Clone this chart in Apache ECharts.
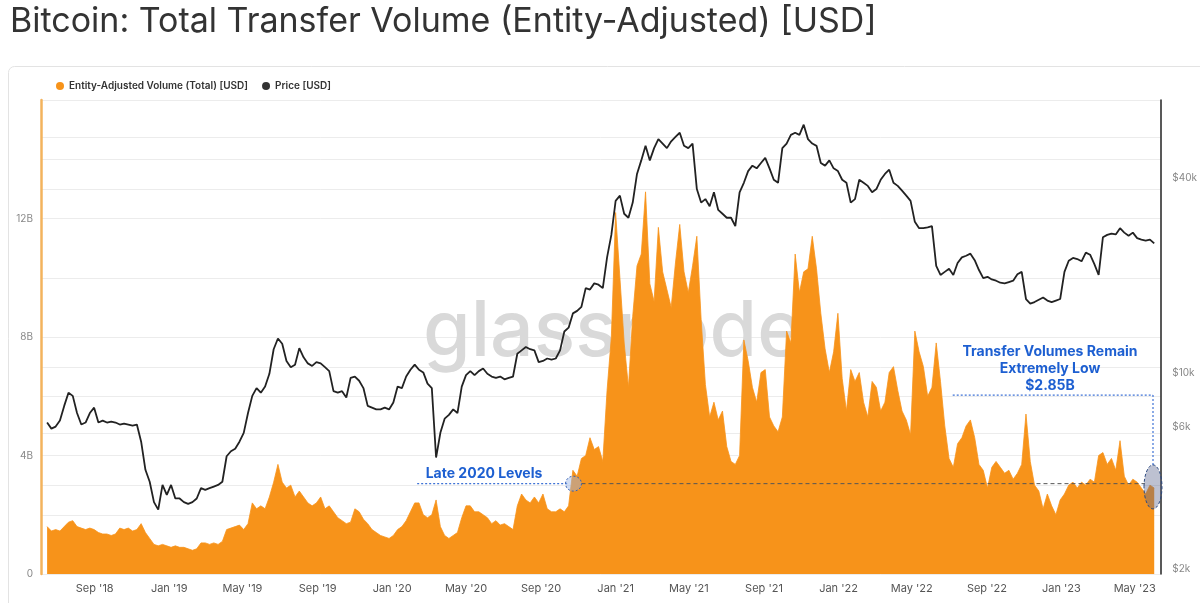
<!DOCTYPE html>
<html>
<head>
<meta charset="utf-8">
<script src="https://cdn.jsdelivr.net/npm/echarts@6/dist/echarts.min.js"></script>
<style>
  html, body { margin: 0; padding: 0; background: #fff; }
  #chart { width: 1200px; height: 603px; }
</style>
</head>
<body>
<div id="chart"></div>
<script>
// weekly samples, first one on 2018-06-15
const startDate = [2018, 5, 15];

// Entity-adjusted transfer volume, billions USD
const volumeB = [
  1.6, 1.45, 1.5, 1.45, 1.6, 1.75, 1.8, 1.6, 1.55, 1.5,
  1.55, 1.5, 1.4, 1.35, 1.35, 1.3, 1.35, 1.55, 1.5, 1.55,
  1.45, 1.5, 1.7, 1.4, 1.2, 1.0, 0.95, 1.0, 0.95, 0.9,
  0.95, 0.9, 0.9, 0.85, 0.8, 0.85, 1.05, 1.05, 1.0, 1.05,
  1.0, 1.1, 1.5, 1.55, 1.6, 1.65, 1.5, 1.7, 2.4, 2.2,
  2.3, 2.2,
  2.6, 3.1, 3.7, 3.1, 2.9, 3.0, 2.6, 2.8,
  2.6, 2.4, 2.3, 2.4, 2.6, 2.2, 2.3, 2.1, 1.9, 1.8,
  1.7, 1.75, 2.2, 2.1, 1.85, 1.7, 1.5, 1.4, 1.3, 1.25,
  1.2, 1.3, 1.5, 1.6, 1.8, 2.1, 2.4, 2.4, 2.0, 1.9,
  2.0, 2.5, 1.6, 1.3, 1.2, 1.3, 1.4, 1.9, 2.3, 2.3,
  2.1, 2.1, 2.0, 1.9,
  1.7, 1.8, 1.65, 1.7, 1.6, 1.5,
  2.3, 2.7, 2.5, 2.4, 2.6, 2.4, 2.7, 2.2, 2.1, 2.1,
  2.2, 2.1, 2.3, 3.5, 3.3, 3.9, 4.0, 4.6, 4.2, 4.3,
  3.8, 6.2, 8.0, 12.2, 10.0, 7.8, 6.3, 8.7, 10.4, 10.8,
  12.9, 9.8, 9.2, 11.7, 10.2, 9.6, 9.0, 10.5, 11.8, 10.2,
  9.5, 10.4, 11.4, 8.6, 6.4, 5.3,
  5.8, 5.2, 5.5, 4.3, 3.8, 3.7, 4.0, 7.9, 7.2, 6.3,
  5.8, 6.8, 6.9, 5.3, 5.0, 4.8, 5.3, 8.2, 7.8, 10.8,
  9.5, 10.2, 10.3, 11.4, 10.3, 8.8, 7.6, 6.8, 7.5, 8.8,
  6.6, 5.5, 6.9, 6.5, 6.8, 5.8, 5.3, 6.5, 6.3, 5.5,
  5.8, 6.8, 7.0, 6.2, 5.5, 5.2, 4.7, 8.2, 7.5, 7.0,
  6.0, 6.3,
  7.8, 6.5, 5.0, 3.9, 3.6, 4.4, 4.6, 5.0, 5.2, 4.6,
  3.7, 3.5, 2.9, 3.6, 3.8, 3.6, 3.4, 3.5, 3.2, 3.4,
  3.7, 5.4, 3.8, 3.0, 2.8, 2.2, 2.7, 2.3, 2.0, 2.5,
  2.7, 3.0, 3.1, 2.9, 3.1, 3.0, 3.2, 3.1, 4.0, 4.1,
  3.7, 3.9, 3.5, 4.5, 3.3, 3.0, 3.2, 3.1, 2.9, 2.7,
  3.0, 2.9
];

// BTC price, thousands USD
const priceK = [
  6.5, 6.2, 6.3, 6.6, 7.4, 8.2, 8.0, 7.0, 6.4, 6.5,
  7.0, 7.3, 6.5, 6.6, 6.5, 6.55, 6.5, 6.4, 6.45, 6.4,
  6.35, 6.4, 5.6, 4.5, 4.1, 3.5, 3.3, 4.0, 3.7, 4.0,
  3.6, 3.6, 3.5, 3.45, 3.5, 3.6, 3.9, 3.85, 3.9, 3.95,
  4.0, 4.1, 5.0, 5.2, 5.3, 5.6, 6.0, 7.0, 8.0, 8.5,
  8.2, 8.6,
  9.5, 11.5, 12.5, 12.0, 10.5, 10.0, 10.2, 11.6,
  10.8, 10.3, 10.1, 10.4, 10.3, 10.0, 9.7, 8.3, 8.2, 8.3,
  7.9, 9.2, 9.3, 9.0, 8.5, 7.4, 7.3, 7.2, 7.2, 7.3,
  7.2, 7.6, 8.6, 8.5, 9.3, 9.8, 10.2, 9.8, 9.6, 8.8,
  8.5, 4.95, 6.0, 6.7, 6.9, 7.2, 7.0, 8.6, 9.4, 9.7,
  9.4, 9.7, 9.9, 9.5,
  9.3, 9.2, 9.3, 9.1, 9.2, 9.3,
  11.1, 11.4, 11.7, 11.5, 11.4, 10.4, 10.5, 10.7, 10.6, 10.7,
  11.4, 13.2, 13.6, 15.2, 15.5, 16.0, 18.5, 18.3, 19.2, 19.0,
  18.5, 23.5, 28.0, 36.5, 38, 33, 32, 36, 45, 50,
  56, 50, 55, 59, 57, 55, 58, 60, 62, 56,
  55, 57, 40, 36, 37, 35,
  39, 34, 33, 32, 32, 30, 39, 42, 46, 48,
  47, 49, 51, 47, 43, 42, 55, 57, 61, 62,
  61, 66, 59, 57, 56, 49, 48, 50, 47, 46,
  43, 42, 36, 37, 43, 42, 41, 39, 40, 43,
  45, 46.5, 42, 41, 39.5, 38, 36.5, 31, 29.5, 29.5,
  29.7, 30,
  22, 20.5, 21, 21.5, 20.5, 22.5, 23.5, 23.8, 24.2, 23,
  21.3, 20, 20.2, 19.8, 19.6, 19.3, 19.2, 19.4, 19.6, 20.6,
  21, 17.0, 16.4, 16.6, 16.9, 17.2, 16.8, 16.6, 16.8, 17.0,
  21, 22.9, 23.4, 23.2, 22.8, 24.4, 24.0, 22.3, 20.5, 27.5,
  28.0, 28.3, 28.1, 29.5, 28.5, 27.8, 28.5, 27.3, 27.0, 26.8,
  27.0, 26.2
];

// x axis labels: first of Sep / Jan / May
const xTickDates = [
  [2018, 8], [2019, 0], [2019, 4], [2019, 8], [2020, 0], [2020, 4], [2020, 8],
  [2021, 0], [2021, 4], [2021, 8], [2022, 0], [2022, 4], [2022, 8], [2023, 0], [2023, 4]
];
const leftTickLabels = [0, 4, 8, 12];          // B
const rightTickLabels = [2000, 6000, 10000, 40000];
const rightGridValues = [4000, 6000, 10000, 20000, 40000, 60000];

const ORANGE = '#f7931a';
const BLUE = '#1d5fd1';
const DAY = 86400000;
const MONTHS = ['Jan','Feb','Mar','Apr','May','Jun','Jul','Aug','Sep','Oct','Nov','Dec'];

const t0 = Date.UTC(startDate[0], startDate[1], startDate[2]);
const volData = volumeB.map((v, i) => [t0 + i * 7 * DAY, v * 1e9]);
const priceData = priceK.map((p, i) => [t0 + i * 7 * DAY, p * 1000]);
const xTicks = xTickDates.map(d => Date.UTC(d[0], d[1], 1));

const chart = echarts.init(document.getElementById('chart'));

const option = {
  animation: false,
  textStyle: { fontFamily: 'Inter, "Noto Sans", sans-serif' },
  title: {
    text: 'Bitcoin: Total Transfer Volume (Entity-Adjusted) [USD]',
    left: 5, top: 0,
    textStyle: { fontSize: 34, fontWeight: 'normal', color: '#333', fontFamily: 'Inter' }
  },
  legend: {
    left: 51, top: 76,
    icon: 'circle', itemWidth: 8, itemHeight: 8, itemGap: 14,
    textStyle: { fontSize: 10, fontWeight: 600, color: '#333' },
    data: ['Entity-Adjusted Volume (Total) [USD]', 'Price [USD]']
  },
  grid: { left: 41, right: 37, top: 100, bottom: 29 },
  xAxis: {
    // timestamps on a plain value axis so the Sep/Jan/May ticks can be set directly
    type: 'value',
    min: Date.UTC(2018, 5, 5),
    max: Date.UTC(2023, 5, 12),
    axisLine: { show: false },
    axisTick: { show: false },
    splitLine: { show: false },
    axisLabel: {
      customValues: xTicks,
      color: '#555', fontSize: 11, margin: 9,
      formatter: v => {
        const d = new Date(v);
        return MONTHS[d.getUTCMonth()] + " '" + String(d.getUTCFullYear()).slice(2);
      }
    }
  },
  yAxis: [
    {
      type: 'value', position: 'left',
      min: 0, max: 16e9, interval: 2e9,
      axisLine: { show: true, lineStyle: { color: '#f3b35d', width: 2.5 } },
      axisTick: { show: false },
      splitLine: { lineStyle: { color: '#ececec', width: 1 } },
      axisLabel: {
        color: '#888', fontSize: 10, margin: 8, padding: [0, 0, 10, 0],
        formatter: v => {
          const b = Math.round(v / 1e9);
          if (!leftTickLabels.includes(b)) return '';
          return b === 0 ? '0' : b + 'B';
        }
      }
    },
    {
      type: 'log', position: 'right', logBase: 10,
      min: 2000, max: 80000,
      axisLine: { show: true, onZero: false, lineStyle: { color: '#222', width: 1.5 } },
      axisTick: { show: false },
      splitLine: { show: false },
      axisLabel: {
        customValues: rightTickLabels,
        color: '#888', fontSize: 10, margin: 12,
        formatter: v => {
          const k = Math.round(v / 1000);
          // glassnode nudges some of its log labels off the tick
          const tag = k === 40 ? 'a' : k === 10 ? 'b' : 'c';
          return '{' + tag + '|$' + k + 'k}';
        },
        rich: {
          a: { color: '#888', fontSize: 10, padding: [0, 0, 22, 0] },
          b: { color: '#888', fontSize: 10, padding: [12, 0, 0, 0] },
          c: { color: '#888', fontSize: 10, padding: [0, 0, 11, 0] }
        }
      }
    }
  ],
  series: [
    {
      // extra grid lines that belong to the log axis, kept under the volume area
      type: 'line', yAxisIndex: 1, data: [], z: 0, silent: true,
      markLine: {
        silent: true, symbol: 'none', label: { show: false }, animation: false, z: 0,
        lineStyle: { color: '#ececec', width: 1, type: 'solid' },
        data: rightGridValues.map(v => ({ yAxis: v }))
      }
    },
    {
      name: 'Entity-Adjusted Volume (Total) [USD]',
      type: 'line', yAxisIndex: 0, data: volData,
      symbol: 'none', z: 2,
      itemStyle: { color: ORANGE },
      lineStyle: { color: ORANGE, width: 0.8 },
      areaStyle: { color: ORANGE, opacity: 1 }
    },
    {
      name: 'Price [USD]',
      type: 'line', yAxisIndex: 1, data: priceData,
      symbol: 'none', z: 3,
      itemStyle: { color: '#333' },
      lineStyle: { color: '#222', width: 1.8 }
    }
  ]
};
chart.setOption(option);

// annotations placed through the volume axis
const px = (y, m, d, v) => chart.convertToPixel({ xAxisIndex: 0, yAxisIndex: 0 }, [Date.UTC(y, m, d), v]);
const lvl = 3.05e9;
const a1 = px(2020, 1, 11, lvl), a2 = px(2020, 9, 14, lvl);
const e1 = px(2020, 9, 24, lvl);
const e2 = px(2023, 4, 31, 2.94e9);
const top1 = px(2022, 6, 7, 6.04e9), top2 = px(2023, 4, 31, 6.04e9);

chart.setOption({
  graphic: [
    {
      type: 'rect', z: -10, silent: true,
      shape: { x: 8.5, y: 66.5, width: 1250, height: 600, r: 6 },
      style: { fill: 'none', stroke: '#e3e3e3', lineWidth: 1 }
    },
    {
      type: 'text', z: 0, silent: true, x: 423, y: 333,
      style: { text: 'glassnode', font: '500 77px Inter', fill: '#d9d9d9', verticalAlign: 'middle' }
    },
    {
      type: 'line', z: 50, silent: true,
      shape: { x1: a1[0], y1: a1[1], x2: a2[0], y2: a2[1] },
      style: { stroke: '#3f73d6', lineWidth: 1.2, lineDash: [2, 2] }
    },
    {
      type: 'line', z: 50, silent: true,
      shape: { x1: e1[0] + 8, y1: e1[1], x2: e2[0] - 8, y2: e1[1] },
      style: { stroke: '#555', lineWidth: 1, lineDash: [4, 3] }
    },
    {
      type: 'ellipse', z: 51, silent: true,
      shape: { cx: e1[0], cy: e1[1], rx: 8, ry: 7.5 },
      style: { fill: 'rgba(150,180,230,0.45)', stroke: '#3a62b0', lineWidth: 1, lineDash: [2, 2] }
    },
    {
      type: 'line', z: 50, silent: true,
      shape: { x1: top1[0], y1: top1[1], x2: top2[0], y2: top2[1] },
      style: { stroke: '#3f73d6', lineWidth: 1.2, lineDash: [2, 2] }
    },
    {
      type: 'line', z: 50, silent: true,
      shape: { x1: top2[0], y1: top2[1], x2: top2[0], y2: e2[1] - 22 },
      style: { stroke: '#3f73d6', lineWidth: 1.2, lineDash: [2, 2] }
    },
    {
      type: 'ellipse', z: 51, silent: true,
      shape: { cx: e2[0], cy: e2[1], rx: 9, ry: 22 },
      style: { fill: 'rgba(90,100,140,0.4)', stroke: '#2c4a80', lineWidth: 1, lineDash: [3, 2] }
    },
    {
      type: 'text', z: 52, silent: true, x: 484, y: 474,
      style: { text: 'Late 2020 Levels', font: 'bold 14px Inter', fill: BLUE, align: 'center', verticalAlign: 'middle' }
    },
    {
      type: 'text', z: 52, silent: true, x: 1050, y: 369,
      style: {
        text: 'Transfer Volumes Remain\nExtremely Low\n$2.85B',
        font: 'bold 14px Inter', lineHeight: 17, fill: BLUE, align: 'center', verticalAlign: 'middle'
      }
    }
  ]
});
</script>
</body>
</html>
